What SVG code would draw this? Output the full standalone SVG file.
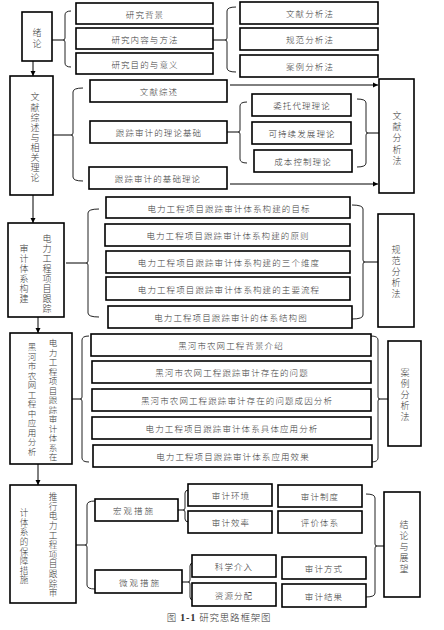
<svg xmlns="http://www.w3.org/2000/svg" width="444" height="630" viewBox="0 0 444 630">
<style>
.box{fill:#fff;stroke:#000;stroke-width:1.6}
.t{font-family:"Noto Sans CJK SC","Noto Sans CJK JP",sans-serif;font-size:8.5px;fill:#3a3a3a;text-anchor:middle;dominant-baseline:central;letter-spacing:1.1px;font-weight:300}
.v{font-family:"Noto Sans CJK SC","Noto Sans CJK JP",sans-serif;font-size:9px;fill:#3a3a3a;text-anchor:middle;dominant-baseline:central;font-weight:300;writing-mode:vertical-rl;letter-spacing:1px}
.ln{stroke:#000;stroke-width:1;fill:none}
.br{stroke:#222;stroke-width:1;fill:none}
.cap{font-family:"Noto Sans CJK SC","Noto Sans CJK JP",sans-serif;font-size:9.5px;fill:#333;text-anchor:middle;font-weight:300}
</style>
<defs>
<marker id="ah" markerWidth="6" markerHeight="6" refX="5" refY="3" orient="auto" markerUnits="userSpaceOnUse">
<path d="M0,0.5 L5,3 L0,5.5 Z" fill="#000"/>
</marker>
</defs>
<rect width="444" height="630" fill="#fff"/>

<g id="connectors">
<line class="ln" x1="33" y1="61" x2="33" y2="76" marker-end="url(#ah)"/>
<line class="ln" x1="33" y1="195" x2="33" y2="223" marker-end="url(#ah)"/>
<line class="ln" x1="38" y1="317" x2="38" y2="333" marker-end="url(#ah)"/>
<line class="ln" x1="38" y1="464" x2="38" y2="485" marker-end="url(#ah)"/>
<line class="ln" x1="230" y1="85" x2="378" y2="85" marker-end="url(#ah)"/>
<line class="ln" x1="230" y1="184" x2="378" y2="184" marker-end="url(#ah)"/>
<line class="ln" x1="52" y1="40" x2="63" y2="40"/>
<path class="br" d="M71,11 Q65,11 65,15 V38 Q65,40 63,40 Q65,40 65,42 V63 Q65,67 71,67"/>
<line class="ln" x1="213" y1="40" x2="225" y2="40"/>
<path class="br" d="M236,7 Q227,7 227,11 V38 Q227,40 225,40 Q227,40 227,42 V68 Q227,72 236,72"/>
<line class="ln" x1="53" y1="135" x2="71" y2="135"/>
<path class="br" d="M83,88 Q73,88 73,92 V133 Q73,135 71,135 Q73,135 73,137 V177 Q73,181 83,181"/>
<line class="ln" x1="227" y1="132" x2="238" y2="132"/>
<path class="br" d="M247,102 Q240,102 240,106 V130 Q240,132 238,132 Q240,132 240,134 V159 Q240,163 247,163"/>
<path class="br" d="M357,99 Q366,99 366,103 V131 Q366,133 368,133 Q366,133 366,135 V163 Q366,167 357,167"/>
<line class="ln" x1="368" y1="133" x2="379" y2="133"/>
<line class="ln" x1="66" y1="263" x2="86" y2="263"/>
<path class="br" d="M99,209 Q88,209 88,213 V261 Q88,263 86,263 Q88,263 88,265 V313 Q88,317 99,317"/>
<path class="br" d="M352,205 Q363,205 363,209 V260 Q363,262 365,262 Q363,262 363,264 V315 Q363,319 352,319"/>
<line class="ln" x1="365" y1="262" x2="378" y2="262"/>
<line class="ln" x1="72" y1="399" x2="80" y2="399"/>
<path class="br" d="M89,336 Q82,336 82,340 V397 Q82,399 80,399 Q82,399 82,401 V458 Q82,462 89,462"/>
<path class="br" d="M371,336 Q378,336 378,340 V397 Q378,399 380,399 Q378,399 378,401 V458 Q378,462 371,462"/>
<line class="ln" x1="380" y1="399" x2="388" y2="399"/>
<line class="ln" x1="76" y1="545" x2="85" y2="545"/>
<path class="br" d="M95,501 Q87,501 87,505 V543 Q87,545 85,545 Q87,545 87,547 V585 Q87,589 95,589"/>
<line class="ln" x1="178" y1="510" x2="183" y2="510"/>
<path class="br" d="M189,490 Q185,490 185,493 V508 Q185,510 183,510 Q185,510 185,512 V519 Q185,522 189,522"/>
<line class="ln" x1="182" y1="582" x2="188" y2="582"/>
<path class="br" d="M193,563 Q190,563 190,566 V580 Q190,582 188,582 Q190,582 190,584 V597 Q190,600 193,600"/>
<path class="br" d="M366,494 Q375,494 375,498 V544 Q375,546 377,546 Q375,546 375,548 V593 Q375,597 366,597"/>
<line class="ln" x1="377" y1="546" x2="384" y2="546"/>
</g>

<g id="n-xulun"><rect class="box" x="22" y="12" width="30" height="49"/>
<text class="v" x="37" y="39" style="letter-spacing:2px">绪论</text></g>
<g id="n-bg"><rect class="box" x="76" y="3" width="137" height="21"/><text class="t" x="145" y="13.5">研究背景</text></g>
<g id="n-content"><rect class="box" x="76" y="28" width="137" height="21"/><text class="t" x="145" y="38.5">研究内容与方法</text></g>
<g id="n-purpose"><rect class="box" x="76" y="53" width="137" height="21"/><text class="t" x="145" y="63.5">研究目的与意义</text></g>
<g id="n-m1"><rect class="box" x="240" y="2" width="138" height="22"/><text class="t" x="310" y="13">文献分析法</text></g>
<g id="n-m2"><rect class="box" x="240" y="28" width="138" height="22"/><text class="t" x="310" y="39">规范分析法</text></g>
<g id="n-m3"><rect class="box" x="240" y="55" width="138" height="22"/><text class="t" x="310" y="66">案例分析法</text></g>

<g id="n-lit"><rect class="box" x="10" y="76" width="43" height="119"/>
<text class="v" x="35" y="138" style="letter-spacing:1.1px">文献综述与相关理论</text></g>
<g id="n-review"><rect class="box" x="90" y="80" width="137" height="22"/><text class="t" x="159" y="91">文献综述</text></g>
<g id="n-theory"><rect class="box" x="90" y="121" width="137" height="22"/><text class="t" x="159" y="132">跟踪审计的理论基础</text></g>
<g id="n-basic"><rect class="box" x="89" y="167" width="138" height="22"/><text class="t" x="158" y="178">跟踪审计的基础理论</text></g>
<g id="n-agency"><rect class="box" x="252" y="94" width="99" height="22"/><text class="t" x="302" y="105">委托代理理论</text></g>
<g id="n-sustain"><rect class="box" x="252" y="122" width="99" height="22"/><text class="t" x="302" y="133">可持续发展理论</text></g>
<g id="n-cost"><rect class="box" x="254" y="150" width="98" height="22"/><text class="t" x="303" y="161">成本控制理论</text></g>
<g id="n-wxfx"><rect class="box" x="379" y="79" width="35" height="114"/>
<text class="v" x="397" y="139" style="letter-spacing:2.2px">文献分析法</text></g>

<g id="n-build"><rect class="box" x="8" y="223" width="56" height="94"/>
<text class="v" x="47" y="274">电力工程项目跟踪</text>
<text class="v" x="24" y="274">审计体系构建</text></g>
<g id="n-b1"><rect class="box" x="106" y="197" width="244" height="21"/><text class="t" x="229" y="207.5">电力工程项目跟踪审计体系构建的目标</text></g>
<g id="n-b2"><rect class="box" x="105" y="224" width="245" height="22"/><text class="t" x="228" y="235">电力工程项目跟踪审计体系构建的原则</text></g>
<g id="n-b3"><rect class="box" x="106" y="251" width="244" height="22"/><text class="t" x="229" y="262">电力工程项目跟踪审计体系构建的三个维度</text></g>
<g id="n-b4"><rect class="box" x="106" y="277" width="244" height="23"/><text class="t" x="229" y="288.5">电力工程项目跟踪审计体系构建的主要流程</text></g>
<g id="n-b5"><rect class="box" x="108" y="306" width="244" height="22"/><text class="t" x="231" y="317">电力工程项目跟踪审计的体系结构图</text></g>
<g id="n-gffx"><rect class="box" x="378" y="214" width="36" height="113"/>
<text class="v" x="396" y="272.5" style="letter-spacing:1.8px">规范分析法</text></g>

<g id="n-apply"><rect class="box" x="10" y="333" width="62" height="131"/>
<text class="v" x="53" y="400.5" style="font-size:8.5px">电力工程项目跟踪审计体系在</text>
<text class="v" x="32" y="400" style="font-size:8.5px">黑河市农网工程中应用分析</text></g>
<g id="n-c1"><rect class="box" x="91" y="334" width="280" height="22"/><text class="t" x="231" y="345">黑河市农网工程背景介绍</text></g>
<g id="n-c2"><rect class="box" x="92" y="361" width="279" height="22"/><text class="t" x="232" y="372">黑河市农网工程跟踪审计存在的问题</text></g>
<g id="n-c3"><rect class="box" x="92" y="389" width="279" height="22"/><text class="t" x="237" y="400">黑河市农网工程跟踪审计存在的问题成因分析</text></g>
<g id="n-c4"><rect class="box" x="92" y="417" width="279" height="22"/><text class="t" x="232" y="428">电力工程项目跟踪审计体系具体应用分析</text></g>
<g id="n-c5"><rect class="box" x="93" y="445" width="279" height="22"/><text class="t" x="233" y="456">电力工程项目跟踪审计体系应用效果</text></g>
<g id="n-alfx"><rect class="box" x="388" y="341" width="33" height="105"/>
<text class="v" x="405" y="396" style="letter-spacing:2px">案例分析法</text></g>

<g id="n-guarantee"><rect class="box" x="10" y="485" width="66" height="118"/>
<text class="v" x="53" y="545.5" style="font-size:8.6px">推行电力工程项目跟踪审</text>
<text class="v" x="24" y="547" style="font-size:8.6px">计体系的保障措施</text></g>
<g id="n-macro"><rect class="box" x="95" y="499" width="83" height="22"/><text class="t" x="134" y="510" style="letter-spacing:2px">宏观措施</text></g>
<g id="n-micro"><rect class="box" x="95" y="570" width="87" height="23"/><text class="t" x="140" y="581.5" style="letter-spacing:2px">微观措施</text></g>
<g id="n-env"><rect class="box" x="188" y="484" width="84" height="22"/><text class="t" x="231" y="495">审计环境</text></g>
<g id="n-eff"><rect class="box" x="188" y="511" width="84" height="22"/><text class="t" x="231" y="522">审计效率</text></g>
<g id="n-sys"><rect class="box" x="278" y="485" width="84" height="22"/><text class="t" x="320" y="496">审计制度</text></g>
<g id="n-eval"><rect class="box" x="278" y="511" width="84" height="22"/><text class="t" x="320" y="522">评价体系</text></g>
<g id="n-sci"><rect class="box" x="192" y="555" width="84" height="22"/><text class="t" x="234" y="566">科学介入</text></g>
<g id="n-res"><rect class="box" x="192" y="583" width="84" height="23"/><text class="t" x="234" y="594.5">资源分配</text></g>
<g id="n-way"><rect class="box" x="282" y="557" width="84" height="22"/><text class="t" x="324" y="568">审计方式</text></g>
<g id="n-result"><rect class="box" x="282" y="584" width="84" height="23"/><text class="t" x="324" y="595.5">审计结果</text></g>
<g id="n-concl"><rect class="box" x="384" y="492" width="36" height="105"/>
<text class="v" x="404" y="548" style="letter-spacing:2px">结论与展望</text></g>

<text class="cap" x="219" y="621" style="letter-spacing:0.8px">图 <tspan font-family="Liberation Serif,serif" font-size="10.5" font-weight="bold">1-1</tspan> 研究思路框架图</text>
</svg>
